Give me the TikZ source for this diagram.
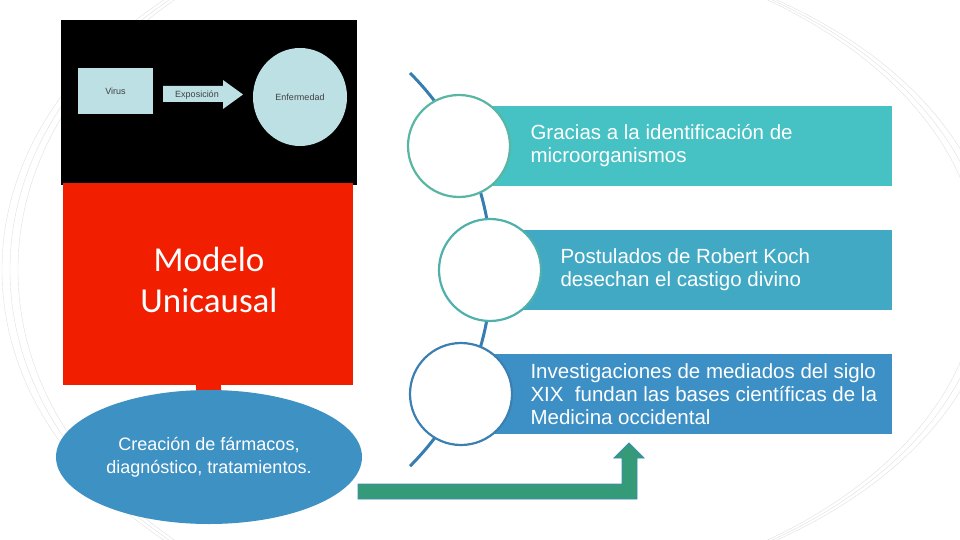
\documentclass[tikz,border=0pt]{standalone}
\usepackage{fontspec}
\setmainfont{Liberation Sans}
\newfontfamily\calibri{Carlito}
\usetikzlibrary{positioning, shapes.geometric}

\definecolor{paleblue}{RGB}{189,224,228}
\definecolor{redbox}{RGB}{242,30,0}
\definecolor{ellblue}{RGB}{61,145,195}
\definecolor{boxa}{RGB}{70,193,196}
\definecolor{boxb}{RGB}{65,169,196}
\definecolor{boxc}{RGB}{60,144,197}
\definecolor{ringa}{RGB}{88,182,163}
\definecolor{ringb}{RGB}{80,176,172}
\definecolor{ringc}{RGB}{60,128,178}
\definecolor{lineblue}{RGB}{55,125,175}
\definecolor{arrowgreen}{RGB}{52,154,120}
\definecolor{arrowedge}{RGB}{60,140,184}

\begin{document}
\begin{tikzpicture}[
    x=1pt, y=-1pt, % one unit per pixel, y pointing down
    deco/.style={gray!25, line width=0.4pt}, % faint background arcs
    pale/.style={fill=paleblue, draw=none, inner sep=0pt}, % shapes on the black panel
    paletext/.style={text=black!75, font=\fontsize{9}{10}\selectfont},
    timeline/.style={lineblue, line width=3pt}, % the curved line behind the circles
    stepcircle/.style={circle, fill=white, minimum size=102pt, inner sep=0pt, line width=2.2pt},
    stepbox/.style={rectangle, minimum height=80pt, inner sep=0pt, anchor=west},
    steptext/.style={text=white, align=left, anchor=west, font=\fontsize{20.5}{23}\selectfont}
]

    \useasboundingbox (0,0) rectangle (960,540);

    % Faint arcs in the background
    \begin{scope}
        \clip (0,0) rectangle (960,540);
        \foreach \r in {462,470,478}
            \draw[deco] (480,-90) arc[start angle=-90, end angle=-270, x radius=\r, y radius=360];
        \foreach \r in {500,508,516}
            \draw[deco] (480,-60) arc[start angle=-90, end angle=90, x radius=\r, y radius=330];
    \end{scope}

    % Black panel with the single-cause scheme
    \node[fill=black, minimum width=296pt, minimum height=165pt, inner sep=0pt, anchor=north west] (panel) at (61,20) {};
    \node[pale, paletext, minimum width=75pt, minimum height=46pt] (virus) at (115.5,91) {Virus};
    \fill[paleblue] (163,86) -- (223,86) -- (223,80) -- (243,94.5) -- (223,109) -- (223,102) -- (163,102) -- cycle;
    \node[paletext] (expo) at (197,95) {Exposición};
    \node[pale, paletext, ellipse, minimum width=94pt, minimum height=98pt] (enf) at (300,97) {Enfermedad};

    % Red block and the ellipse below it
    \node[fill=redbox, minimum width=290pt, minimum height=202pt, inner sep=0pt, anchor=north west] (modelo) at (63,183) {};
    \node[text=white, align=center, font=\calibri\fontsize{35}{41}\selectfont] (modtext) at (209,280) {Modelo\\Unicausal};
    \draw[redbox, line width=25pt] ([yshift=6pt]modelo.south) -- (209,400);
    \node[ellipse, fill=ellblue, minimum width=306pt, minimum height=134pt, inner sep=0pt,
          text=white, align=center, font=\fontsize{18}{23}\selectfont] (ell) at (209,457)
          {Creación de fármacos,\\diagnóstico, tratamientos.};

    % Green elbow arrow up to the last step
    \fill[arrowgreen, draw=arrowedge, line width=0.8pt] (358,484) -- (622,484) -- (622,458) -- (614,458)
        -- (629,443) -- (644,458) -- (637,458) -- (637,499) -- (358,499) -- cycle;

    % Timeline
    \coordinate (tltop) at (410,73);
    \draw[timeline] (tltop) arc[start angle=-45, end angle=45, radius=278];

    % Steps: box, circle and text
    \foreach \i/\cx/\cy/\tx/\col/\ring/\txt in {
        1/459/146/527/boxa/ringa/{Gracias a la identificación de\\microorganismos},
        2/490/270/557/boxb/ringb/{Postulados de Robert Koch\\desechan el castigo divino},
        3/461/394/527/boxc/ringc/{Investigaciones de mediados del siglo\\XIX\ \ fundan las bases científicas de la\\Medicina occidental}} {
        \node[stepbox, fill=\col, minimum width={(892-\cx)*1pt}] (b\i) at (\cx,\cy) {};
        \node[stepcircle, draw=\ring] (c\i) at (\cx,\cy) {};
        \node[steptext] (t\i) at (\tx,\cy) {\txt};
    }

\end{tikzpicture}
\end{document}
